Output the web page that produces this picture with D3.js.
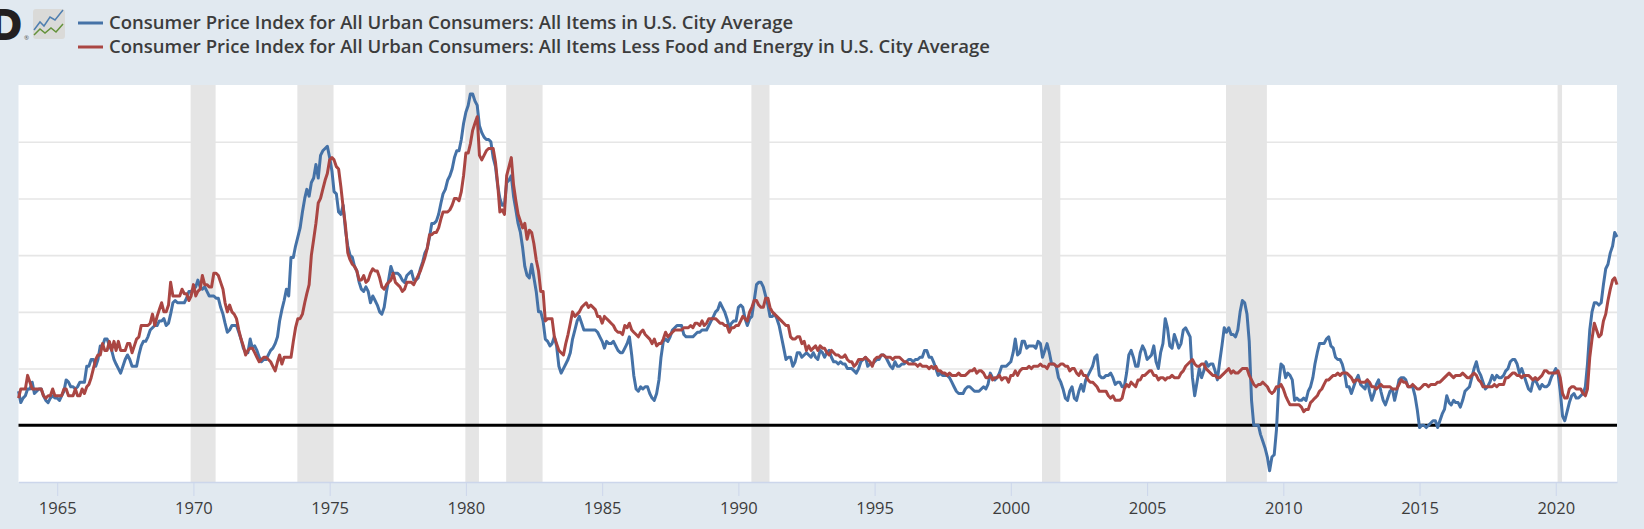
<!DOCTYPE html>
<html>
<head>
<meta charset="utf-8">
<script src="https://d3js.org/d3.v7.min.js"></script>
<style>
  html, body { margin: 0; padding: 0; background: #e1e9f0; overflow: hidden; }
  text { font-family: "Open Sans", sans-serif; }
</style>
</head>
<body>
<svg width="1644" height="529"></svg>
<script>

const seriesNames = [
  "Consumer Price Index for All Urban Consumers: All Items in U.S. City Average",
  "Consumer Price Index for All Urban Consumers: All Items Less Food and Energy in U.S. City Average"
];

// percent change from a year ago, monthly from Aug 1963 to Apr 2022
const firstMonth = new Date(1963, 7, 1);

const allItems = [
  1.5,1.0,1.2,1.3,1.6,
  1.6,1.9,1.4,1.5,1.6,1.6,1.3,1.1,1.0,1.2,1.3,1.2,
  1.2,1.1,1.3,1.5,2.0,1.9,1.7,1.7,1.6,1.7,1.9,1.9,
  1.9,2.6,2.6,2.9,2.9,2.6,2.9,3.5,3.5,3.8,3.8,3.5,
  3.3,2.9,2.7,2.5,2.3,2.6,2.9,3.1,2.9,2.6,2.6,2.6,
  3.1,3.5,3.7,3.7,3.9,4.2,4.3,4.4,4.4,4.6,4.6,4.7,
  4.4,4.5,4.9,5.4,5.5,5.4,5.4,5.4,5.4,5.6,5.9,5.9,
  6.0,6.1,6.4,6.1,6.0,6.1,5.9,5.7,5.7,5.7,5.6,5.6,
  5.2,4.9,4.5,4.1,4.2,4.4,4.4,4.4,4.1,3.8,3.4,3.2,
  3.2,3.8,3.4,3.5,3.3,3.0,2.8,2.9,2.9,3.1,3.3,3.4,
  3.6,3.9,4.6,5.1,5.5,6.0,5.7,7.4,7.4,7.9,8.3,8.7,
  9.4,10.0,10.4,10.1,10.7,10.9,11.5,10.9,11.9,12.1,12.2,12.3,
  11.8,11.2,10.3,10.2,9.4,9.3,9.7,8.6,7.9,7.5,7.4,7.0,
  6.8,6.3,6.0,5.9,6.1,5.9,5.4,5.7,5.5,5.3,5.0,4.9,
  5.2,5.9,6.4,7.0,6.7,6.7,6.7,6.6,6.4,6.3,6.6,6.7,
  6.8,6.4,6.4,6.5,6.9,7.2,7.6,7.8,8.3,8.9,8.9,9.0,
  9.3,9.8,10.2,10.4,10.8,11.0,11.3,11.8,12.1,12.1,12.6,13.3,
  13.8,14.1,14.6,14.6,14.3,14.1,13.2,12.9,12.7,12.6,12.6,12.5,
  11.8,11.4,10.6,10.0,9.7,9.7,10.7,10.8,11.0,10.1,9.5,8.9,
  8.5,7.8,7.0,6.6,6.5,7.1,6.5,5.9,5.0,5.0,4.6,3.8,
  3.7,3.5,3.6,3.9,3.5,2.6,2.3,2.5,2.7,2.9,3.2,3.8,
  4.2,4.6,4.8,4.5,4.2,4.2,4.2,4.2,4.2,4.2,4.1,3.9,
  3.7,3.4,3.7,3.6,3.6,3.7,3.5,3.3,3.2,3.2,3.4,3.6,
  3.9,3.1,2.2,1.6,1.5,1.7,1.6,1.7,1.7,1.4,1.2,1.1,
  1.4,2.0,3.0,3.7,3.8,3.7,3.9,4.2,4.3,4.4,4.4,4.4,
  4.0,3.9,3.9,3.9,3.9,4.0,4.1,4.1,4.2,4.2,4.2,4.4,
  4.6,4.8,5.0,5.1,5.4,5.2,5.0,4.7,4.3,4.5,4.6,4.6,
  5.2,5.3,5.2,4.7,4.4,4.7,4.8,5.5,6.2,6.3,6.3,6.1,
  5.7,5.3,4.8,4.8,4.9,4.7,4.4,3.9,3.4,2.9,3.0,3.0,
  2.6,2.8,3.2,3.2,3.0,3.1,3.2,3.1,3.0,3.2,3.0,2.9,
  3.3,3.2,3.0,3.2,3.3,3.0,2.8,2.8,2.7,2.8,2.7,2.7,
  2.5,2.5,2.5,2.4,2.3,2.5,2.8,2.9,3.0,2.6,2.7,2.7,
  2.8,2.9,2.9,3.1,3.1,3.0,2.8,2.6,2.5,2.8,2.6,2.6,
  2.7,2.7,2.8,2.9,2.9,2.8,2.9,2.9,3.0,3.0,3.3,3.3,
  3.0,3.0,2.8,2.5,2.2,2.3,2.2,2.2,2.2,2.1,1.9,1.7,
  1.5,1.4,1.4,1.4,1.6,1.7,1.7,1.6,1.5,1.5,1.5,1.6,
  1.7,1.6,1.8,2.3,2.1,2.0,2.1,2.3,2.6,2.6,2.6,2.7,
  2.8,3.2,3.8,3.1,3.2,3.7,3.7,3.4,3.5,3.5,3.5,3.4,
  3.7,3.6,3.0,3.3,3.6,3.2,2.7,2.7,2.6,2.1,1.9,1.6,
  1.2,1.1,1.5,1.7,1.2,1.1,1.5,1.8,1.5,2.0,2.2,2.4,
  2.6,3.0,3.1,2.2,2.1,2.1,2.2,2.2,2.3,2.1,1.8,1.9,
  1.9,1.7,1.7,2.3,3.1,3.3,3.0,2.6,2.6,3.2,3.5,3.3,
  2.9,3.0,3.1,3.5,2.8,2.5,3.2,3.6,4.7,4.3,3.5,3.4,
  4.0,3.7,3.4,3.6,4.2,4.3,4.1,3.9,2.1,1.3,1.9,2.5,
  2.1,2.4,2.8,2.6,2.7,2.7,2.4,2.0,2.8,3.5,4.3,4.1,
  4.3,4.0,4.0,3.9,4.2,5.0,5.5,5.4,4.9,3.7,1.1,0.0,
  0.0,0.0,-0.4,-0.7,-1.0,-1.4,-2.0,-1.4,-1.3,-0.2,1.8,2.7,
  2.6,2.1,2.3,2.2,2.0,1.1,1.2,1.1,1.1,1.2,1.1,1.5,
  1.7,2.1,2.7,3.2,3.6,3.6,3.6,3.8,3.9,3.5,3.4,3.0,
  2.9,2.9,2.7,2.3,1.7,1.7,1.4,1.7,2.0,2.2,1.8,1.7,
  1.6,2.0,1.5,1.1,1.4,1.8,2.0,1.5,1.1,0.9,1.2,1.5,
  1.6,1.1,1.5,2.0,2.1,2.1,2.0,1.7,1.7,1.7,1.3,0.7,
  -0.1,0.0,0.0,-0.1,0.0,0.1,0.2,0.2,-0.1,0.2,0.5,0.7,
  1.3,1.0,0.9,1.1,1.0,1.0,0.8,1.1,1.5,1.6,1.7,2.1,
  2.5,2.8,2.4,2.2,1.9,1.6,1.7,1.9,2.2,2.0,2.2,2.1,
  2.1,2.2,2.4,2.5,2.8,2.9,2.9,2.7,2.3,2.5,2.2,1.9,
  1.6,1.5,1.9,2.0,1.8,1.6,1.8,1.7,1.7,1.8,2.1,2.3,
  2.5,2.3,1.5,0.4,0.2,0.6,1.0,1.3,1.4,1.2,1.2,1.3,
  1.4,1.7,2.7,4.2,5.0,5.4,5.4,5.3,5.4,6.2,6.9,7.1,
  7.6,7.9,8.5,8.3
];

const lessFoodEnergy = [
  1.2,1.6,1.6,1.6,2.2,
  1.9,1.6,1.6,1.6,1.6,1.6,1.3,1.2,1.3,1.3,1.6,1.3,
  1.3,1.3,1.3,1.6,1.6,1.3,1.3,1.3,1.6,1.3,1.3,1.6,
  1.4,1.7,1.8,2.1,2.5,2.9,3.1,3.1,3.6,3.3,3.3,3.7,
  3.3,3.7,3.3,3.7,3.3,3.3,3.3,3.6,3.6,3.2,3.5,3.8,
  3.9,4.4,4.4,4.4,4.4,4.5,4.9,4.4,4.8,5.1,5.4,5.0,
  5.0,5.3,6.3,5.7,5.7,5.7,5.7,6.0,5.8,5.8,5.5,5.7,
  6.2,5.7,5.9,6.0,6.6,6.2,6.2,6.1,6.1,6.7,6.7,6.6,
  6.3,6.0,5.4,5.0,5.3,5.0,4.9,4.7,4.2,3.8,3.5,3.1,
  3.3,3.4,3.4,3.2,3.0,2.8,2.9,3.0,3.0,2.9,2.8,2.6,
  2.4,2.8,3.1,2.7,3.0,3.0,3.0,3.0,3.7,4.3,4.7,4.7,
  4.9,5.4,5.8,6.2,7.5,8.2,8.9,9.8,10.0,10.4,10.8,11.1,
  11.7,11.8,11.7,11.4,11.3,10.5,9.6,8.8,7.6,7.3,7.1,7.0,
  6.8,6.4,6.4,6.6,6.3,6.4,6.7,6.9,6.8,6.8,6.5,6.1,
  6.0,6.2,6.3,6.4,6.7,6.3,6.2,6.1,5.9,6.0,6.3,6.3,
  6.3,6.2,6.4,6.6,6.8,7.1,7.4,7.8,8.4,8.4,8.5,8.5,
  8.7,9.1,9.4,9.4,9.4,9.5,9.7,10.0,10.0,9.9,10.3,11.0,
  12.0,12.0,12.4,13.0,13.3,13.6,11.9,11.7,11.9,12.1,12.2,12.2,
  12.2,11.6,10.7,9.4,9.5,9.3,11.0,11.4,11.8,10.6,9.9,9.3,
  9.0,8.7,8.9,8.2,8.6,8.5,8.0,7.3,6.8,5.9,5.9,4.6,
  4.7,4.7,4.7,3.9,3.6,3.3,3.2,3.1,3.6,4.0,4.5,5.0,
  4.8,4.9,5.0,5.2,5.3,5.4,5.2,5.3,5.2,5.1,4.8,4.8,
  4.5,4.8,4.7,4.6,4.5,4.4,4.2,4.1,4.1,4.0,4.4,4.3,
  4.5,4.2,4.1,4.0,3.9,4.1,4.2,4.0,3.9,3.8,3.6,3.8,
  3.5,3.6,3.6,3.8,4.1,3.9,4.0,4.1,4.2,4.2,4.2,4.2,
  4.3,4.3,4.3,4.4,4.3,4.5,4.5,4.4,4.6,4.4,4.5,4.7,
  4.7,4.7,4.7,4.6,4.5,4.5,4.4,4.4,4.1,4.3,4.3,4.4,
  4.4,4.6,4.8,4.7,4.6,5.0,5.2,5.5,5.5,5.3,5.2,5.2,
  5.6,5.6,5.2,5.0,4.9,4.8,4.7,4.6,4.5,4.4,4.4,3.9,
  3.8,3.8,3.9,3.9,3.6,3.7,3.3,3.5,3.3,3.4,3.5,3.3,
  3.5,3.4,3.4,3.2,3.1,3.3,3.2,3.1,3.1,3.0,3.0,3.1,
  2.9,2.8,2.8,2.6,2.7,2.9,2.9,2.9,3.0,2.9,2.8,2.6,
  2.9,3.0,3.0,3.1,3.1,3.0,3.0,3.0,2.9,3.0,3.0,3.0,
  2.9,2.8,2.8,2.7,2.7,2.7,2.7,2.6,2.7,2.6,2.6,2.6,
  2.5,2.6,2.5,2.6,2.4,2.4,2.3,2.3,2.2,2.3,2.2,2.2,
  2.2,2.3,2.2,2.2,2.2,2.3,2.4,2.4,2.5,2.3,2.4,2.4,
  2.3,2.1,2.1,2.2,2.0,2.1,2.1,2.2,2.0,2.1,2.1,1.9,
  2.2,2.2,2.4,2.2,2.4,2.5,2.5,2.5,2.6,2.5,2.6,2.6,
  2.6,2.7,2.6,2.6,2.5,2.7,2.7,2.7,2.6,2.6,2.7,2.7,
  2.6,2.6,2.4,2.5,2.5,2.3,2.2,2.4,2.2,2.2,2.0,1.9,
  1.9,1.8,1.7,1.5,1.5,1.5,1.5,1.3,1.2,1.3,1.1,1.1,
  1.1,1.2,1.6,1.8,1.7,1.9,1.8,1.7,2.0,2.0,2.2,2.2,
  2.3,2.4,2.4,2.2,2.2,2.0,2.1,2.1,2.0,2.1,2.1,2.2,
  2.1,2.1,2.1,2.3,2.4,2.6,2.7,2.8,2.9,2.7,2.6,2.6,
  2.7,2.7,2.5,2.4,2.3,2.2,2.2,2.1,2.1,2.2,2.3,2.4,
  2.5,2.3,2.4,2.3,2.3,2.4,2.5,2.5,2.5,2.2,2.0,1.8,
  1.7,1.8,1.8,1.9,1.8,1.7,1.5,1.4,1.5,1.7,1.7,1.8,
  1.6,1.3,1.1,0.9,0.9,0.9,0.9,0.9,0.8,0.6,0.7,0.7,
  1.0,1.1,1.2,1.3,1.5,1.6,1.8,2.0,2.0,2.1,2.2,2.2,
  2.3,2.2,2.3,2.3,2.3,2.2,2.1,1.9,2.0,2.0,1.9,1.9,
  1.9,2.0,1.9,1.7,1.7,1.6,1.7,1.8,1.7,1.7,1.7,1.7,
  1.6,1.6,1.6,1.8,2.0,1.9,1.9,1.7,1.7,1.8,1.7,1.6,
  1.6,1.7,1.8,1.8,1.7,1.8,1.8,1.8,1.9,1.9,2.0,2.1,
  2.2,2.3,2.2,2.1,2.2,2.2,2.2,2.3,2.2,2.1,2.1,2.2,
  2.3,2.2,2.0,1.9,1.7,1.7,1.7,1.7,1.7,1.8,1.7,1.8,
  1.8,1.8,2.1,2.1,2.2,2.3,2.3,2.2,2.2,2.1,2.2,2.2,
  2.2,2.1,2.0,2.1,2.0,2.1,2.2,2.4,2.4,2.3,2.3,2.3,
  2.3,2.4,2.1,1.4,1.2,1.2,1.6,1.7,1.7,1.6,1.6,1.6,
  1.4,1.3,1.6,3.0,3.8,4.5,4.2,3.9,4.0,4.6,4.9,5.5,
  6.0,6.4,6.5,6.2
];

const recessionStart = ["1969-12","1973-11","1980-01","1981-07","1990-07","2001-03","2007-12","2020-02"];
const recessionEnd   = ["1970-11","1975-03","1980-07","1982-11","1991-03","2001-11","2009-06","2020-04"];

const tickYears = [1965,1970,1975,1980,1985,1990,1995,2000,2005,2010,2015,2020];
const gridValues = [2.5,5,7.5,10,12.5];

const svgWidth = 1644;
const svgHeight = 529;
const margin = { top: 85, left: 18.5, bottom: 47, right: 27 };

const svg = d3.select("svg");
const parseMonth = d3.timeParse("%Y-%m");

const months = allItems.map((d, i) => d3.timeMonth.offset(firstMonth, i));

const xScale = d3.scaleTime()
  .domain([firstMonth, months[months.length - 1]])
  .range([margin.left, svgWidth - margin.right]);

const yScale = d3.scaleLinear()
  .domain([-2.5, 15])
  .range([svgHeight - margin.bottom, margin.top]);

// plot background
svg.append("rect")
  .attr("x", xScale.range()[0])
  .attr("y", margin.top)
  .attr("width", xScale.range()[1] - xScale.range()[0])
  .attr("height", yScale.range()[0] - margin.top)
  .attr("fill", "#fff");

// grid
svg.append("g")
  .attr("transform", `translate(${margin.left},0)`)
  .call(d3.axisRight(yScale).tickValues(gridValues).tickSize(xScale.range()[1] - xScale.range()[0]).tickFormat(""))
  .call(g => g.select(".domain").remove())
  .selectAll("line")
  .attr("stroke", "#e6e6e6")
  .attr("stroke-width", 1.6);

// recession bands
svg.append("g")
  .selectAll("rect")
  .data(recessionStart)
  .enter()
  .append("rect")
  .attr("x", d => xScale(parseMonth(d)) - 0.5)
  .attr("y", margin.top)
  .attr("width", (d, i) => xScale(parseMonth(recessionEnd[i])) - xScale(parseMonth(d)))
  .attr("height", yScale.range()[0] - margin.top)
  .attr("fill", "#e5e5e5");

// x axis
const xAxis = d3.axisBottom(xScale)
  .tickValues(tickYears.map(y => new Date(y, 0, 1)))
  .tickSize(14)
  .tickSizeOuter(0)
  .tickPadding(6)
  .tickFormat(d3.timeFormat("%Y"));

svg.append("g")
  .attr("transform", `translate(0,${yScale.range()[0]})`)
  .call(xAxis)
  .call(g => g.select(".domain").attr("stroke", "#ccd6eb").attr("stroke-width", 1.5))
  .call(g => g.selectAll("line").attr("stroke", "#ccd6eb"))
  .call(g => g.selectAll("text")
    .attr("fill", "#3c3c3c")
    .style("font-family", '"Open Sans", sans-serif')
    .style("font-size", "16.5px"));

// zero line
svg.append("line")
  .attr("x1", xScale.range()[0])
  .attr("x2", xScale.range()[1])
  .attr("y1", yScale(0))
  .attr("y2", yScale(0))
  .attr("stroke", "#000")
  .attr("stroke-width", 3);

const lineGen = d3.line()
  .x((d, i) => xScale(months[i]))
  .y(d => yScale(d));

const lineColors = ["#4572a7", "#aa4643"];

svg.selectAll(".series")
  .data([allItems, lessFoodEnergy])
  .enter()
  .append("path")
  .attr("class", "series")
  .attr("d", lineGen)
  .attr("fill", "none")
  .attr("stroke", (d, i) => lineColors[i])
  .attr("stroke-width", 3)
  .attr("stroke-linejoin", "round");

// legend
const legend = svg.append("g");
seriesNames.forEach((name, i) => {
  const y = 23 + i * 24;
  legend.append("line")
    .attr("x1", 78).attr("x2", 103)
    .attr("y1", y).attr("y2", y)
    .attr("stroke", lineColors[i])
    .attr("stroke-width", 3);
  legend.append("text")
    .attr("x", 109)
    .attr("y", y + 6)
    .attr("fill", "#3c3c3c")
    .style("font-size", "18.5px")
    .style("font-weight", 600)
    .text(name);
});

// logo pieces top left
svg.append("text")
  .attr("x", -9).attr("y", 39)
  .attr("fill", "#231f20")
  .attr("stroke", "#231f20")
  .attr("stroke-width", 2)
  .style("font-family", '"Liberation Sans", sans-serif')
  .style("font-size", "42px")
  .style("font-weight", 700)
  .text("D");
svg.append("text")
  .attr("x", 24).attr("y", 40)
  .attr("fill", "#555")
  .style("font-size", "6px")
  .text("®");

const icon = svg.append("g").attr("transform", "translate(33,9)");
icon.append("rect")
  .attr("width", 32).attr("height", 30).attr("rx", 3)
  .attr("fill", "#dadad8");
icon.append("path")
  .attr("d", "M1,21L7,13L11,17L17,8L22,11L30,1")
  .attr("fill", "none").attr("stroke", "#4f7fb0").attr("stroke-width", 1.5);
icon.append("path")
  .attr("d", "M1,26L7,20L12,24L18,19L23,23L30,15")
  .attr("fill", "none").attr("stroke", "#64923a").attr("stroke-width", 1.5);

</script>
</body>
</html>
